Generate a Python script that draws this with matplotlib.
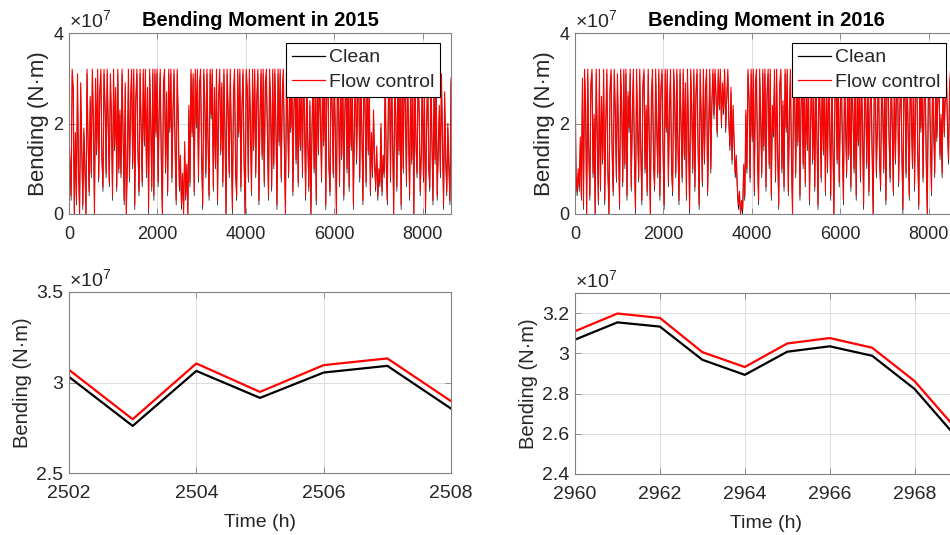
#!/usr/bin/env python3

import matplotlib
matplotlib.use('Agg')
import matplotlib.pyplot as plt
from matplotlib.ticker import FuncFormatter
import numpy as np

plt.rcParams['font.family'] = ['Liberation Sans', 'DejaVu Sans']
plt.rcParams['mathtext.fontset'] = 'custom'
plt.rcParams['mathtext.rm'] = 'Liberation Sans'
plt.rcParams['mathtext.it'] = 'Liberation Sans:italic'

# yearly series, sampled every 24 h, values in 1e7 N*m
step_h = 24
flow_2015 = [
    1.7, 1.2, 0.4, 3.2, 2.8, 0.0, 1.8, 0.3, 3.1, 1.0,
    0.0, 2.9, 1.5, 0.2, 1.9, 1.1, 0.0, 3.2, 1.6, 0.5,
    2.6, 0.9, 3.2, 2.1, 0.0, 3.0, 1.4, 3.2, 0.8, 2.7,
    3.2, 1.3, 0.6, 3.2, 2.4, 0.9, 3.2, 1.9, 0.7, 3.1,
    2.2, 0.4, 3.2, 1.5, 2.8, 0.6, 3.2, 1.0, 2.3, 0.9,
    3.2, 1.7, 0.3, 2.9, 0.0, 1.2, 3.2, 0.8, 2.5, 3.2,
    1.1, 3.2, 0.2, 2.6, 3.2, 1.4, 0.5, 3.2, 2.0, 0.7,
    3.2, 1.6, 3.2, 0.9, 2.8, 0.1, 3.2, 2.2, 0.6, 3.2,
    0.4, 3.2, 1.8, 3.2, 0.7, 2.4, 3.2, 1.2, 0.0, 2.9,
    3.2, 1.0, 2.7, 0.5, 3.2, 1.9, 3.2, 0.8, 2.3, 3.2,
    1.5, 0.3, 3.2, 2.1, 0.6, 1.3, 0.2, 0.9, 0.0, 1.6,
    0.4, 1.1, 0.0, 2.4, 0.7, 3.2, 1.8, 3.1, 0.5, 3.2,
    2.0, 3.2, 0.8, 2.9, 3.2, 1.3, 0.2, 3.2, 2.5, 0.9,
    3.2, 1.7, 0.4, 3.2, 2.2, 3.2, 0.6, 2.8, 1.1, 3.2,
    0.3, 2.6, 3.2, 1.4, 2.9, 0.7, 3.2, 1.9, 0.0, 3.2,
    2.3, 0.9, 3.2, 1.6, 0.1, 2.7, 3.2, 1.0, 0.4, 3.2,
    1.8, 3.2, 0.6, 2.4, 3.2, 1.2, 0.0, 3.2, 2.8, 0.8,
    3.2, 2.0, 0.5, 3.2, 1.5, 3.2, 0.9, 2.6, 3.2, 0.3,
    2.2, 3.2, 1.3, 3.2, 0.7, 2.9, 3.2, 1.8, 0.4, 3.2,
    2.5, 0.6, 3.2, 1.1, 3.2, 2.0, 0.2, 3.2, 1.6, 3.2,
    0.8, 2.7, 3.2, 1.4, 0.0, 3.2, 2.3, 0.9, 3.2, 1.9,
    3.2, 0.5, 2.4, 3.2, 1.2, 3.2, 0.7, 2.8, 1.5, 3.2,
    0.9, 3.2, 2.1, 0.4, 3.2, 1.7, 0.6, 2.5, 0.0, 1.9,
    3.2, 1.0, 2.7, 0.3, 3.2, 1.4, 3.2, 2.2, 0.8, 3.2,
    1.6, 3.2, 0.2, 2.9, 3.2, 1.1, 0.5, 3.2, 2.4, 0.9,
    3.2, 1.8, 0.0, 3.2, 2.6, 0.7, 3.2, 1.3, 3.2, 0.4,
    2.3, 3.2, 1.0, 3.2, 0.6, 2.8, 1.5, 3.2, 0.2, 2.1,
    3.2, 1.2, 2.6, 3.2, 0.8, 3.2, 1.9, 0.3, 3.2, 2.4,
    0.7, 3.2, 1.4, 2.9, 0.5, 1.8, 0.9, 2.3, 1.2, 0.6,
    1.5, 0.4, 1.0, 0.7, 2.0, 0.5, 1.3, 0.9, 3.2, 1.1,
    0.3, 2.6, 3.2, 0.8, 3.2, 1.7, 0.0, 3.2, 2.2, 0.6,
    3.2, 1.4, 2.9, 0.2, 3.2, 1.0, 3.2, 2.5, 0.7, 3.2,
    1.9, 0.4, 3.2, 1.2, 2.7, 0.0, 3.2, 1.6, 0.9, 3.2,
    2.3, 0.5, 1.4, 3.2, 0.8, 2.6, 0.1, 1.9, 3.2, 1.1,
    0.6, 3.2, 1.7, 0.3, 2.8, 1.2, 3.1, 0.4, 1.5, 2.4,
    0.9, 3.1, 1.6, 0.2, 2.7, 1.3, 0.5, 2.0, 1.1, 0.3,
    3.0,
]
clean_2015 = [
    1.6, 1.1, 0.3, 3.1, 2.7, 0.0, 1.7, 0.2, 3.0, 0.9,
    0.0, 2.8, 1.4, 0.1, 1.8, 1.0, 0.0, 3.1, 1.5, 0.4,
    2.5, 0.8, 3.1, 2.0, 0.0, 2.9, 1.3, 3.1, 0.7, 2.6,
    3.1, 1.2, 0.5, 3.1, 2.3, 0.8, 3.1, 1.8, 0.6, 3.0,
    2.1, 0.3, 3.1, 1.4, 2.7, 0.5, 3.1, 0.9, 2.2, 0.8,
    3.1, 1.6, 0.2, 2.8, 0.0, 1.1, 3.1, 0.7, 2.4, 3.1,
    1.0, 3.1, 0.1, 2.5, 3.1, 1.3, 0.4, 3.1, 1.9, 0.6,
    3.1, 1.5, 3.1, 0.8, 2.7, 0.0, 3.1, 2.1, 0.5, 3.1,
    0.3, 3.1, 1.7, 3.1, 0.6, 2.3, 3.1, 1.1, 0.0, 2.8,
    3.1, 0.9, 2.6, 0.4, 3.1, 1.8, 3.1, 0.7, 2.2, 3.1,
    1.4, 0.2, 3.1, 2.0, 0.5, 1.2, 0.1, 0.8, 0.0, 1.5,
    0.3, 1.0, 0.0, 2.3, 0.6, 3.1, 1.7, 3.0, 0.4, 3.1,
    1.9, 3.1, 0.7, 2.8, 3.1, 1.2, 0.1, 3.1, 2.4, 0.8,
    3.1, 1.6, 0.3, 3.1, 2.1, 3.1, 0.5, 2.7, 1.0, 3.1,
    0.2, 2.5, 3.1, 1.3, 2.8, 0.6, 3.1, 1.8, 0.0, 3.1,
    2.2, 0.8, 3.1, 1.5, 0.0, 2.6, 3.1, 0.9, 0.3, 3.1,
    1.7, 3.1, 0.5, 2.3, 3.1, 1.1, 0.0, 3.1, 2.7, 0.7,
    3.1, 1.9, 0.4, 3.1, 1.4, 3.1, 0.8, 2.5, 3.1, 0.2,
    2.1, 3.1, 1.2, 3.1, 0.6, 2.8, 3.1, 1.7, 0.3, 3.1,
    2.4, 0.5, 3.1, 1.0, 3.1, 1.9, 0.1, 3.1, 1.5, 3.1,
    0.7, 2.6, 3.1, 1.3, 0.0, 3.1, 2.2, 0.8, 3.1, 1.8,
    3.1, 0.4, 2.3, 3.1, 1.1, 3.1, 0.6, 2.7, 1.4, 3.1,
    0.8, 3.1, 2.0, 0.3, 3.1, 1.6, 0.5, 2.4, 0.0, 1.8,
    3.1, 0.9, 2.6, 0.2, 3.1, 1.3, 3.1, 2.1, 0.7, 3.1,
    1.5, 3.1, 0.1, 2.8, 3.1, 1.0, 0.4, 3.1, 2.3, 0.8,
    3.1, 1.7, 0.0, 3.1, 2.5, 0.6, 3.1, 1.2, 3.1, 0.3,
    2.2, 3.1, 0.9, 3.1, 0.5, 2.7, 1.4, 3.1, 0.1, 2.0,
    3.1, 1.1, 2.5, 3.1, 0.7, 3.1, 1.8, 0.2, 3.1, 2.3,
    0.6, 3.1, 1.3, 2.8, 0.4, 1.7, 0.8, 2.2, 1.1, 0.5,
    1.4, 0.3, 0.9, 0.6, 1.9, 0.4, 1.2, 0.8, 3.1, 1.0,
    0.2, 2.5, 3.1, 0.7, 3.1, 1.6, 0.0, 3.1, 2.1, 0.5,
    3.1, 1.3, 2.8, 0.1, 3.1, 0.9, 3.1, 2.4, 0.6, 3.1,
    1.8, 0.3, 3.1, 1.1, 2.6, 0.0, 3.1, 1.5, 0.8, 3.1,
    2.2, 0.4, 1.3, 3.1, 0.7, 2.5, 0.0, 1.8, 3.1, 1.0,
    0.5, 3.1, 1.6, 0.2, 2.7, 1.1, 3.0, 0.3, 1.4, 2.3,
    0.8, 3.0, 1.5, 0.1, 2.6, 1.2, 0.4, 1.9, 1.0, 0.2,
    2.9,
]
flow_2016 = [
    3.2, 0.9, 0.5, 1.0, 0.6, 1.7, 0.4, 3.0, 0.2, 3.2,
    2.4, 0.0, 3.2, 1.5, 0.4, 2.9, 3.2, 0.9, 2.2, 0.0,
    3.2, 1.8, 0.3, 3.2, 0.6, 2.6, 1.2, 3.2, 0.3, 2.0,
    3.2, 1.0, 0.0, 2.8, 3.2, 1.4, 0.5, 3.2, 2.3, 0.8,
    3.1, 1.6, 0.2, 3.2, 2.5, 0.7, 3.2, 1.1, 3.2, 0.4,
    2.7, 1.9, 3.2, 0.6, 2.2, 3.2, 1.3, 0.1, 3.2, 2.0,
    0.8, 3.2, 1.5, 0.3, 2.9, 3.2, 1.0, 2.4, 0.5, 3.2,
    1.7, 0.0, 2.6, 3.2, 1.2, 0.6, 3.2, 2.1, 0.9, 3.2,
    0.4, 2.8, 3.2, 1.4, 0.2, 3.2, 1.9, 3.2, 0.7, 2.3,
    3.2, 1.1, 0.5, 3.2, 2.6, 0.9, 3.2, 1.6, 0.3, 3.2,
    2.0, 0.8, 3.2, 1.3, 2.9, 0.4, 3.2, 1.8, 0.1, 3.2,
    2.4, 1.0, 3.2, 0.6, 2.7, 3.2, 1.5, 0.2, 3.2, 2.1,
    0.7, 3.2, 1.2, 2.8, 3.2, 0.5, 1.9, 3.2, 1.0, 2.5,
    3.2, 2.2, 3.2, 2.6, 1.8, 3.2, 2.4, 3.2, 2.0, 2.9,
    2.3, 3.2, 1.9, 2.6, 3.2, 2.1, 1.5, 2.8, 1.2, 2.4,
    1.6, 0.9, 1.3, 0.6, 0.2, 0.5, 0.0, 0.3, 0.1, 1.1,
    0.4, 2.3, 1.0, 3.2, 2.6, 0.8, 3.2, 1.7, 3.2, 0.5,
    2.9, 3.2, 1.3, 0.3, 3.2, 2.2, 0.9, 3.2, 1.5, 3.2,
    0.6, 2.7, 3.2, 1.1, 3.2, 0.4, 2.4, 1.8, 3.2, 0.8,
    3.2, 1.4, 0.2, 2.9, 3.2, 1.0, 2.5, 0.6, 3.2, 1.9,
    3.2, 0.5, 2.2, 3.2, 1.3, 0.0, 3.2, 2.7, 0.9, 3.2,
    1.6, 3.2, 0.4, 2.4, 3.2, 1.1, 3.2, 0.7, 2.8, 1.5,
    3.2, 0.3, 2.0, 3.2, 1.2, 2.6, 0.6, 3.2, 1.8, 0.2,
    3.2, 2.3, 0.8, 3.2, 1.4, 3.2, 0.5, 2.9, 1.0, 3.2,
    2.1, 0.4, 3.2, 1.7, 0.0, 2.6, 3.2, 1.2, 3.2, 0.7,
    2.4, 3.2, 1.5, 0.3, 3.2, 2.0, 0.9, 3.2, 1.3, 2.8,
    0.6, 3.2, 2.2, 1.0, 3.2, 0.4, 2.7, 1.6, 3.2, 0.8,
    3.2, 1.9, 0.2, 3.2, 2.5, 1.1, 3.2, 0.5, 2.3, 3.2,
    1.4, 0.0, 2.8, 3.2, 0.9, 2.1, 3.2, 1.3, 0.6, 3.2,
    2.4, 1.0, 3.2, 0.3, 2.7, 3.2, 1.7, 0.8, 3.2, 2.0,
    0.5, 3.2, 1.2, 2.9, 3.2, 0.7, 2.2, 3.2, 1.5, 0.1,
    3.2, 2.6, 0.9, 3.2, 1.8, 0.4, 3.2, 2.3, 1.1, 3.2,
    0.6, 2.7, 3.2, 1.4, 0.2, 3.2, 1.9, 3.2, 0.8, 2.5,
    3.2, 1.2, 0.0, 2.8, 3.2, 1.6, 0.5, 3.2, 2.1, 0.9,
    3.2, 1.7, 2.6, 3.2, 1.3, 2.2, 0.9, 3.2, 1.8, 2.7,
    3.2, 2.0, 1.2, 2.9, 3.2, 1.6, 2.4, 1.0, 2.8, 3.2,
    2.3,
]
clean_2016 = [
    3.1, 0.8, 0.4, 0.9, 0.5, 1.6, 0.3, 2.9, 0.1, 3.1,
    2.3, 0.0, 3.1, 1.4, 0.3, 2.8, 3.1, 0.8, 2.1, 0.0,
    3.1, 1.7, 0.2, 3.1, 0.5, 2.5, 1.1, 3.1, 0.2, 1.9,
    3.1, 0.9, 0.0, 2.7, 3.1, 1.3, 0.4, 3.1, 2.2, 0.7,
    3.0, 1.5, 0.1, 3.1, 2.4, 0.6, 3.1, 1.0, 3.1, 0.3,
    2.6, 1.8, 3.1, 0.5, 2.1, 3.1, 1.2, 0.0, 3.1, 1.9,
    0.7, 3.1, 1.4, 0.2, 2.8, 3.1, 0.9, 2.3, 0.4, 3.1,
    1.6, 0.0, 2.5, 3.1, 1.1, 0.5, 3.1, 2.0, 0.8, 3.1,
    0.3, 2.7, 3.1, 1.3, 0.1, 3.1, 1.8, 3.1, 0.6, 2.2,
    3.1, 1.0, 0.4, 3.1, 2.5, 0.8, 3.1, 1.5, 0.2, 3.1,
    1.9, 0.7, 3.1, 1.2, 2.8, 0.3, 3.1, 1.7, 0.0, 3.1,
    2.3, 0.9, 3.1, 0.5, 2.6, 3.1, 1.4, 0.1, 3.1, 2.0,
    0.6, 3.1, 1.1, 2.7, 3.1, 0.4, 1.8, 3.1, 0.9, 2.4,
    3.1, 2.1, 3.1, 2.5, 1.7, 3.1, 2.3, 3.1, 1.9, 2.8,
    2.2, 3.1, 1.8, 2.5, 3.1, 2.0, 1.4, 2.7, 1.1, 2.3,
    1.5, 0.8, 1.2, 0.5, 0.1, 0.4, 0.0, 0.2, 0.0, 1.0,
    0.3, 2.2, 0.9, 3.1, 2.5, 0.7, 3.1, 1.6, 3.1, 0.4,
    2.8, 3.1, 1.2, 0.2, 3.1, 2.1, 0.8, 3.1, 1.4, 3.1,
    0.5, 2.6, 3.1, 1.0, 3.1, 0.3, 2.3, 1.7, 3.1, 0.7,
    3.1, 1.3, 0.1, 2.8, 3.1, 0.9, 2.4, 0.5, 3.1, 1.8,
    3.1, 0.4, 2.1, 3.1, 1.2, 0.0, 3.1, 2.6, 0.8, 3.1,
    1.5, 3.1, 0.3, 2.3, 3.1, 1.0, 3.1, 0.6, 2.7, 1.4,
    3.1, 0.2, 1.9, 3.1, 1.1, 2.5, 0.5, 3.1, 1.7, 0.1,
    3.1, 2.2, 0.7, 3.1, 1.3, 3.1, 0.4, 2.8, 0.9, 3.1,
    2.0, 0.3, 3.1, 1.6, 0.0, 2.5, 3.1, 1.1, 3.1, 0.6,
    2.3, 3.1, 1.4, 0.2, 3.1, 1.9, 0.8, 3.1, 1.2, 2.7,
    0.5, 3.1, 2.1, 0.9, 3.1, 0.3, 2.6, 1.5, 3.1, 0.7,
    3.1, 1.8, 0.1, 3.1, 2.4, 1.0, 3.1, 0.4, 2.2, 3.1,
    1.3, 0.0, 2.7, 3.1, 0.8, 2.0, 3.1, 1.2, 0.5, 3.1,
    2.3, 0.9, 3.1, 0.2, 2.6, 3.1, 1.6, 0.7, 3.1, 1.9,
    0.4, 3.1, 1.1, 2.8, 3.1, 0.6, 2.1, 3.1, 1.4, 0.0,
    3.1, 2.5, 0.8, 3.1, 1.7, 0.3, 3.1, 2.2, 1.0, 3.1,
    0.5, 2.6, 3.1, 1.3, 0.1, 3.1, 1.8, 3.1, 0.7, 2.4,
    3.1, 1.1, 0.0, 2.7, 3.1, 1.5, 0.4, 3.1, 2.0, 0.8,
    3.1, 1.6, 2.5, 3.1, 1.2, 2.1, 0.8, 3.1, 1.7, 2.6,
    3.1, 1.9, 1.1, 2.8, 3.1, 1.5, 2.3, 0.9, 2.7, 3.1,
    2.2,
]

# zoomed windows, values in 1e7 N*m
zoom_hours_2015 = [2502, 2503, 2504, 2505, 2506, 2507, 2508]
zoom_clean_2015 = [3.031, 2.76, 3.064, 2.915, 3.055, 3.092, 2.856]
zoom_flow_2015 = [3.07, 2.797, 3.105, 2.948, 3.096, 3.133, 2.897]

zoom_hours_2016 = [2960, 2961, 2962, 2963, 2964, 2965, 2966, 2967, 2968, 2969]
zoom_clean_2016 = [3.068, 3.154, 3.133, 2.968, 2.893, 3.008, 3.035, 2.988, 2.823, 2.58]
zoom_flow_2016 = [3.11, 3.198, 3.176, 3.006, 2.932, 3.049, 3.076, 3.028, 2.862, 2.62]

SCALE = 1e7
TXT = '#262626'


def style_axes(ax, tick_size):
    """MATLAB-like look: grey box, inward ticks, light grid."""
    for sp in ax.spines.values():
        sp.set_color('#808080')
        sp.set_linewidth(0.8)
    ax.tick_params(direction='in', length=4, width=0.6, colors='#808080',
                   labelcolor=TXT, labelsize=tick_size, top=True, right=True)
    ax.tick_params(axis='x', pad=8.5)
    ax.tick_params(axis='y', pad=4)
    ax.grid(True, color='#dcdcdc', linewidth=0.7)
    ax.set_axisbelow(True)
    ax.yaxis.set_major_formatter(FuncFormatter(lambda v, p: f'{v / SCALE:g}'))
    ax.text(0.0, 1.01, r'$\times10^{7}$', transform=ax.transAxes,
            ha='left', va='bottom', fontsize=14, color=TXT)


def plot_year(ax, flow, clean, year):
    hours = np.arange(len(flow)) * step_h
    ax.plot(hours, np.array(clean) * SCALE, color='black', lw=0.5, label='Clean')
    ax.plot(hours, np.array(flow) * SCALE, color='red', lw=0.8, label='Flow control')
    ax.set_xlim(0, 8640)
    ax.set_ylim(0, 4e7)
    ax.set_xticks([0, 2000, 4000, 6000, 8000])
    ax.set_yticks([0, 2e7, 4e7])
    style_axes(ax, 13)
    ax.set_ylabel('Bending (N·m)', fontsize=16, color=TXT, labelpad=3)
    ax.set_title(f'Bending Moment in {year}', fontsize=14.5, fontweight='bold',
                 color='black', pad=5)
    leg = ax.legend(loc='upper right', bbox_to_anchor=(1 - 11 / 382, 1 - 10 / 181),
                    borderaxespad=0, fontsize=14, handlelength=1.7,
                    handletextpad=0.2, borderpad=0.3, labelspacing=0.35,
                    fancybox=False, framealpha=1)
    leg.get_frame().set_edgecolor('black')
    leg.get_frame().set_linewidth(0.8)
    for line in leg.get_lines():
        line.set_linewidth(0.9)
    for t in leg.get_texts():
        t.set_color(TXT)


def plot_zoom(ax, hours, clean, flow, xticks, xlim, ylim, yticks):
    ax.plot(hours, np.array(clean) * SCALE, color='black', lw=1.6)
    ax.plot(hours, np.array(flow) * SCALE, color='red', lw=1.6)
    ax.set_xlim(*xlim)
    ax.set_ylim(*ylim)
    ax.set_xticks(xticks)
    ax.set_yticks(yticks)
    style_axes(ax, 14)
    ax.set_xlabel('Time (h)', fontsize=14, color=TXT, labelpad=9)
    ax.set_ylabel('Bending (N·m)', fontsize=14.5, color=TXT, labelpad=3)


fig = plt.figure(figsize=(9.5, 5.35), dpi=100)
W, H = 950, 535
w, h = 382 / W, 181 / H

ax1 = fig.add_axes([69 / W, (H - 214) / H, w, h])
ax2 = fig.add_axes([575 / W, (H - 214) / H, w, h])
ax3 = fig.add_axes([69 / W, (H - 473) / H, w, h])
ax4 = fig.add_axes([575 / W, (H - 474) / H, w, h])

plot_year(ax1, flow_2015, clean_2015, 2015)
plot_year(ax2, flow_2016, clean_2016, 2016)
plot_zoom(ax3, zoom_hours_2015, zoom_clean_2015, zoom_flow_2015,
          [2502, 2504, 2506, 2508], (2502, 2508), (2.5e7, 3.5e7),
          [2.5e7, 3e7, 3.5e7])
plot_zoom(ax4, zoom_hours_2016, zoom_clean_2016, zoom_flow_2016,
          [2960, 2962, 2964, 2966, 2968], (2960, 2969), (2.4e7, 3.3e7),
          [2.4e7, 2.6e7, 2.8e7, 3e7, 3.2e7])

fig.savefig('out.png', dpi=100)
plt.close(fig)
